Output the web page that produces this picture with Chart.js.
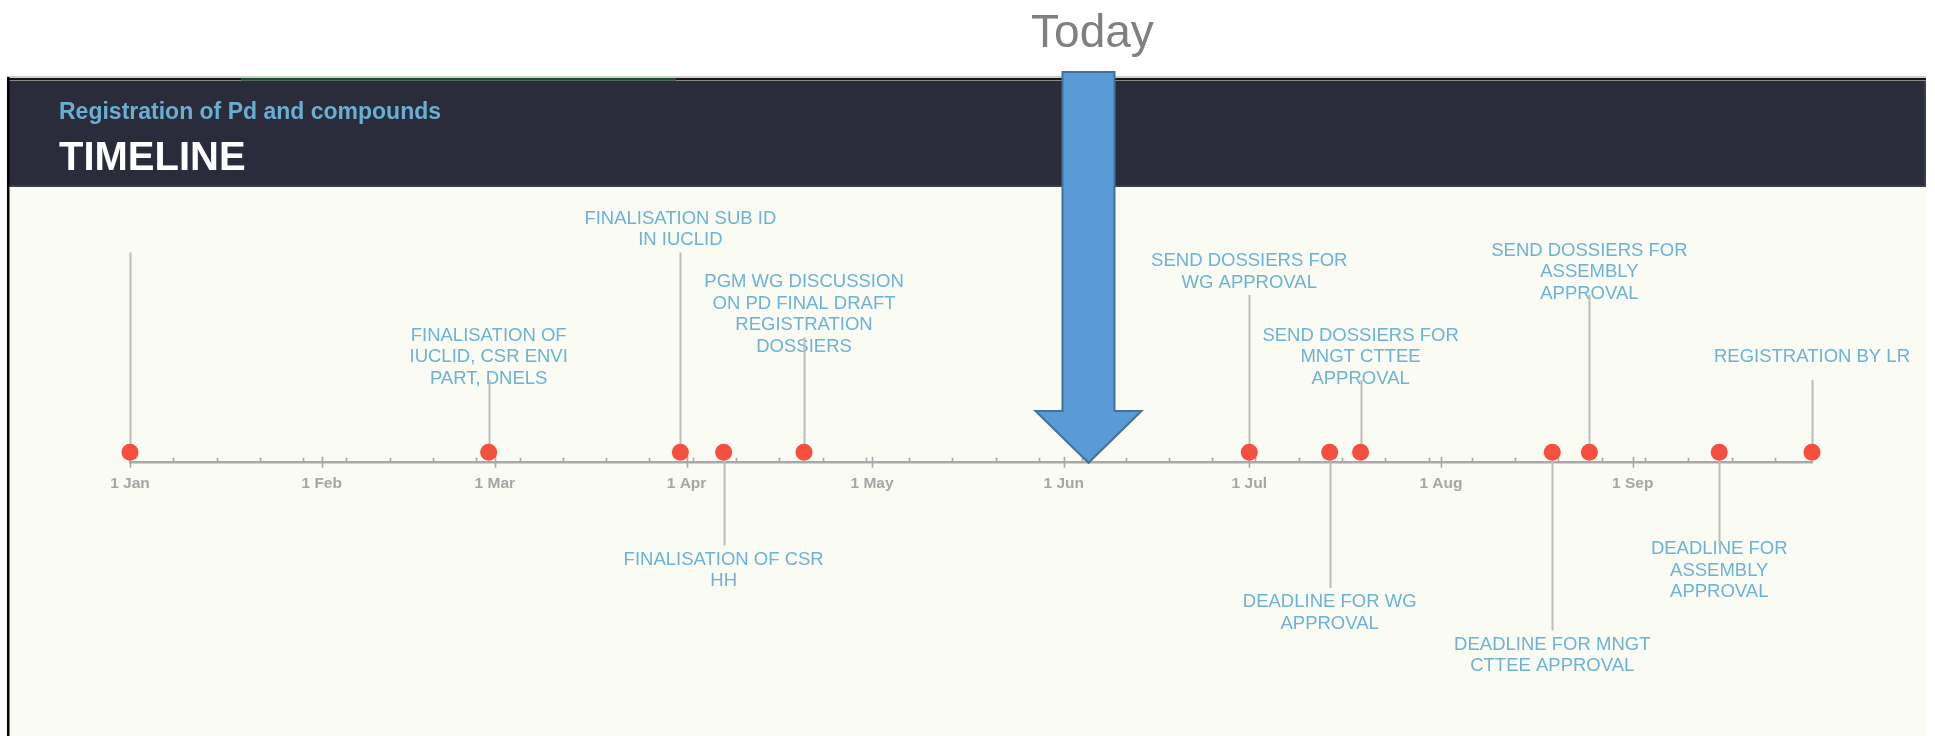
<!DOCTYPE html>
<html>
<head>
<meta charset="utf-8">
<title>Registration of Pd and compounds – Timeline</title>
<script src="https://cdn.jsdelivr.net/npm/chart.js@4.4.1/dist/chart.umd.min.js"></script>
<style>
  html, body { margin: 0; padding: 0; background: #ffffff; }
  canvas { display: block; }
</style>
</head>
<body>
<canvas id="timeline" width="1935" height="736"></canvas>
<script>
// Month starts as day of year (0 = 1 Jan) and their axis labels
const monthStarts = [0, 31, 59, 90, 120, 151, 181, 212, 243];
const monthLabels = ['1 Jan', '1 Feb', '1 Mar', '1 Apr', '1 May', '1 Jun', '1 Jul', '1 Aug', '1 Sep'];

// Milestones: day of year
const eventDays = [0, 58, 89, 96, 109, 181, 194, 199, 230, 236, 257, 272];

// Milestone captions, one entry per line
const eventLabels = [
  [],
  ['FINALISATION OF', 'IUCLID, CSR ENVI', 'PART, DNELS'],
  ['FINALISATION SUB ID', 'IN IUCLID'],
  ['FINALISATION OF CSR', 'HH'],
  ['PGM WG DISCUSSION', 'ON PD FINAL DRAFT', 'REGISTRATION', 'DOSSIERS'],
  ['SEND DOSSIERS FOR', 'WG APPROVAL'],
  ['DEADLINE FOR WG', 'APPROVAL'],
  ['SEND DOSSIERS FOR', 'MNGT CTTEE', 'APPROVAL'],
  ['DEADLINE FOR MNGT', 'CTTEE APPROVAL'],
  ['SEND DOSSIERS FOR', 'ASSEMBLY', 'APPROVAL'],
  ['DEADLINE FOR', 'ASSEMBLY', 'APPROVAL'],
  ['REGISTRATION BY LR']
];

// Caption row of each milestone: positive above the axis, negative below
const eventLevels = [4, 1, 4, -1, 2, 3, -2, 1, -3, 3, -1, 1];

const timelineEnd = 272;   // 30 Sep
const todayDay = 155;      // 5 Jun

// Layout constants (pixels on the hidden vertical scale, 0 = axis line)
const DOT_LIFT = 10.5;
const STEM_BASE = 40.5;
const STEM_STEP = 42.7;
const LABEL_GAP_UP = 23;
const LABEL_GAP_DOWN = 25;
const LINE_HEIGHT = 21.5;

const FONT = '"Liberation Sans", Arial, Helvetica, sans-serif';

function stemValue(level) {
  return Math.sign(level) * (STEM_BASE + STEM_STEP * Math.abs(level));
}

// Page frame, dark title band and heading text
const panelPlugin = {
  id: 'panel',
  beforeDraw(chart) {
    const ctx = chart.ctx;
    ctx.save();
    ctx.fillStyle = '#ffffff';
    ctx.fillRect(0, 0, chart.width, chart.height);
    // cream body
    ctx.fillStyle = '#fafbf3';
    ctx.fillRect(9, 81, 1917, 655);
    // title band
    ctx.fillStyle = '#2a2c3b';
    ctx.fillRect(9, 81, 1917, 106);
    ctx.fillStyle = '#3a3c4f';
    ctx.fillRect(9, 185, 1917, 2);
    ctx.fillRect(1924, 81, 2, 106);
    // frame lines
    ctx.fillStyle = '#a0a0a0';
    ctx.fillRect(7, 76.5, 1919, 1);
    ctx.fillStyle = '#151515';
    ctx.fillRect(7, 78, 1919, 2.5);
    ctx.fillStyle = '#1c4a2c';
    ctx.fillRect(241, 78, 435, 2.5);
    ctx.fillStyle = '#000000';
    ctx.fillRect(7, 77, 2.5, 659);
    // heading
    ctx.textAlign = 'left';
    ctx.textBaseline = 'middle';
    ctx.fillStyle = '#6aaed1';
    ctx.font = 'bold 23px ' + FONT;
    ctx.fillText('Registration of Pd and compounds', 59, 113);
    ctx.fillStyle = '#ffffff';
    ctx.font = 'bold 40px ' + FONT;
    ctx.fillText('TIMELINE', 59, 159);
    ctx.restore();
  }
};

// Week ticks, month ticks, milestone stems and captions
const timelinePlugin = {
  id: 'timeline',
  beforeDatasetsDraw(chart) {
    const ctx = chart.ctx;
    const xs = chart.scales.x;
    const ys = chart.scales.y;
    const axisY = ys.getPixelForValue(0);
    ctx.save();

    // week ticks (above the line) and month ticks (across the line)
    ctx.strokeStyle = '#a9a9a9';
    ctx.lineWidth = 1.6;
    for (let d = 0; d <= timelineEnd; d += 7) {
      if (monthStarts.includes(d)) continue;
      const px = Math.round(xs.getPixelForValue(d)) + 0.5;
      ctx.beginPath();
      ctx.moveTo(px, axisY - 5);
      ctx.lineTo(px, axisY);
      ctx.stroke();
    }
    monthStarts.forEach(d => {
      const px = Math.round(xs.getPixelForValue(d)) + 0.5;
      ctx.beginPath();
      ctx.moveTo(px, axisY - 6);
      ctx.lineTo(px, axisY + 5);
      ctx.stroke();
    });

    // captions
    ctx.fillStyle = '#6cb3d6';
    ctx.font = '18.5px ' + FONT;
    ctx.textAlign = 'center';
    ctx.textBaseline = 'middle';
    eventDays.forEach((d, i) => {
      const lines = eventLabels[i];
      if (!lines.length) return;
      const px = xs.getPixelForValue(d);
      const lvl = eventLevels[i];
      const endY = ys.getPixelForValue(stemValue(lvl));
      const centre = lvl > 0 ? endY - LABEL_GAP_UP : endY + LABEL_GAP_DOWN;
      const first = centre - (lines.length - 1) * LINE_HEIGHT / 2;
      lines.forEach((t, k) => ctx.fillText(t, px, first + k * LINE_HEIGHT));
    });

    // stems
    ctx.strokeStyle = '#bdbdbd';
    ctx.lineWidth = 2;
    eventDays.forEach((d, i) => {
      const px = Math.round(xs.getPixelForValue(d)) + 0.5;
      ctx.beginPath();
      ctx.moveTo(px, ys.getPixelForValue(DOT_LIFT));
      ctx.lineTo(px, ys.getPixelForValue(stemValue(eventLevels[i])));
      ctx.stroke();
    });
    ctx.restore();
  },

  // "Today" marker
  afterDatasetsDraw(chart) {
    const ctx = chart.ctx;
    const xs = chart.scales.x;
    const ys = chart.scales.y;
    const x = xs.getPixelForValue(todayDay);
    const tipY = ys.getPixelForValue(0);
    const shaftHalf = 26, headHalf = 53, topY = 72, shoulderY = 411;
    ctx.save();
    ctx.beginPath();
    ctx.moveTo(x - shaftHalf, topY);
    ctx.lineTo(x + shaftHalf, topY);
    ctx.lineTo(x + shaftHalf, shoulderY);
    ctx.lineTo(x + headHalf, shoulderY);
    ctx.lineTo(x, tipY);
    ctx.lineTo(x - headHalf, shoulderY);
    ctx.lineTo(x - shaftHalf, shoulderY);
    ctx.closePath();
    ctx.fillStyle = '#5b9bd5';
    ctx.fill();
    ctx.strokeStyle = '#41719c';
    ctx.lineWidth = 2;
    ctx.lineJoin = 'miter';
    ctx.stroke();

    ctx.fillStyle = '#808080';
    ctx.font = '46px ' + FONT;
    ctx.textAlign = 'center';
    ctx.textBaseline = 'alphabetic';
    ctx.fillText('Today', x + 4, 47);
    ctx.restore();
  }
};

new Chart(document.getElementById('timeline'), {
  type: 'scatter',
  data: {
    datasets: [{
      label: 'Milestones',
      data: eventDays.map(d => ({ x: d, y: DOT_LIFT })),
      pointRadius: 8.5,
      pointHoverRadius: 8.5,
      backgroundColor: '#f54f40',
      borderWidth: 0,
      clip: false
    }]
  },
  options: {
    responsive: false,
    devicePixelRatio: 1,
    animation: false,
    events: [],
    layout: { padding: { left: 130, right: 123, top: 190, bottom: 6 } },
    plugins: { legend: { display: false }, tooltip: { enabled: false } },
    scales: {
      x: {
        type: 'linear',
        min: 0,
        max: timelineEnd,
        position: { y: 0 },
        afterBuildTicks: scale => { scale.ticks = monthStarts.map(v => ({ value: v })); },
        ticks: {
          callback: v => monthLabels[monthStarts.indexOf(v)],
          autoSkip: false,
          maxRotation: 0,
          minRotation: 0,
          padding: 12,
          color: '#a6a6a6',
          font: { family: FONT, size: 15.5, weight: 'bold' }
        },
        grid: { display: false, drawTicks: false },
        border: { display: true, color: '#a9a9a9', width: 2.5 }
      },
      y: {
        type: 'linear',
        display: false,
        min: -266,
        max: 274
      }
    }
  },
  plugins: [panelPlugin, timelinePlugin]
});
</script>
</body>
</html>
